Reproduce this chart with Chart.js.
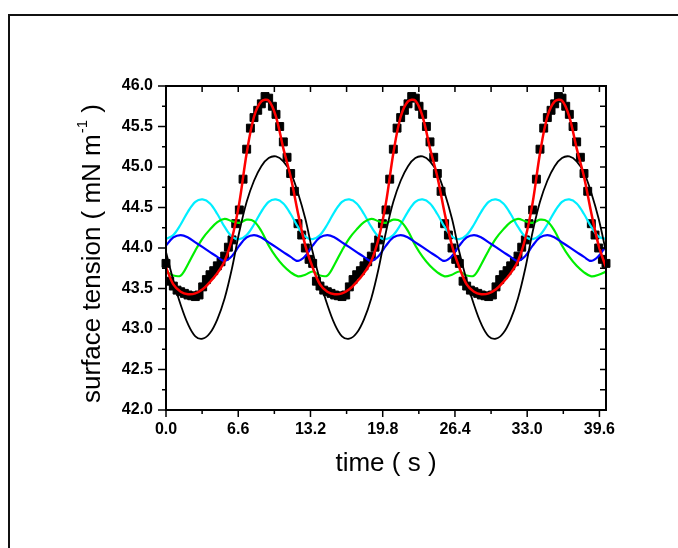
<!DOCTYPE html>
<html>
<head>
<meta charset="utf-8">
<script src="https://cdn.jsdelivr.net/npm/chart.js@4"></script>
<style>
  html, body { margin: 0; padding: 0; background: #fff; overflow: hidden; }
  #wrap { position: relative; width: 678px; height: 548px; }
</style>
</head>
<body>
<div id="wrap"><canvas id="chart" width="678" height="548"></canvas></div>
<script>
// sample times of the fitted / component curves (s)
const lineTimes = [0, 0.67, 1.34, 2.01, 2.68, 3.35, 4.02, 4.69, 5.36, 6.03, 6.7, 7.37, 8.04, 8.71, 9.38, 10.05, 10.72, 11.39, 12.06, 12.73,
  13.4, 14.07, 14.74, 15.41, 16.08, 16.75, 17.42, 18.09, 18.76, 19.43, 20.1, 20.77, 21.44, 22.11, 22.78, 23.45, 24.12, 24.79, 25.46, 26.13,
  26.8, 27.47, 28.14, 28.81, 29.48, 30.15, 30.82, 31.49, 32.16, 32.83, 33.5, 34.17, 34.84, 35.51, 36.18, 36.85, 37.52, 38.19, 38.86, 39.53,
  40.2];

// measured points (black squares)
const dataTimes = [0, 0.34, 0.67, 1.01, 1.34, 1.68, 2.01, 2.35, 2.68, 3.02, 3.35, 3.69, 4.02, 4.36, 4.69, 5.03, 5.36, 5.70, 6.03, 6.37,
  6.70, 7.04, 7.37, 7.71, 8.04, 8.38, 8.71, 9.05, 9.38, 9.72, 10.05, 10.39, 10.72, 11.06, 11.39, 11.73, 12.06, 12.40, 12.73, 13.07,
  13.40, 13.74, 14.07, 14.41, 14.74, 15.08, 15.41, 15.75, 16.08, 16.42, 16.75, 17.09, 17.42, 17.76, 18.09, 18.43, 18.76, 19.10, 19.43, 19.77,
  20.10, 20.44, 20.77, 21.11, 21.44, 21.78, 22.11, 22.45, 22.78, 23.12, 23.45, 23.79, 24.12, 24.46, 24.79, 25.13, 25.46, 25.80, 26.13, 26.47,
  26.80, 27.14, 27.47, 27.81, 28.14, 28.48, 28.81, 29.15, 29.48, 29.82, 30.15, 30.49, 30.82, 31.16, 31.49, 31.83, 32.16, 32.50, 32.83, 33.17,
  33.50, 33.84, 34.17, 34.51, 34.84, 35.18, 35.51, 35.85, 36.18, 36.52, 36.85, 37.19, 37.52, 37.86, 38.19, 38.53, 38.86, 39.20, 39.53, 39.87,
  40.20];

const measured = [43.81, 43.59, 43.53, 43.48, 43.46, 43.44, 43.42, 43.41, 43.40, 43.42, 43.52, 43.61, 43.67, 43.72, 43.78, 43.83, 43.90, 44.01, 44.10, 44.30,
  44.47, 44.85, 45.22, 45.48, 45.61, 45.70, 45.78, 45.87, 45.85, 45.75, 45.65, 45.50, 45.31, 45.12, 44.92, 44.70, 44.30, 44.16, 44.00, 43.86,
  43.81, 43.59, 43.53, 43.48, 43.46, 43.44, 43.42, 43.41, 43.40, 43.42, 43.52, 43.61, 43.67, 43.72, 43.78, 43.83, 43.90, 44.01, 44.10, 44.30,
  44.47, 44.85, 45.22, 45.48, 45.61, 45.70, 45.78, 45.87, 45.85, 45.75, 45.65, 45.50, 45.31, 45.12, 44.92, 44.70, 44.30, 44.16, 44.00, 43.86,
  43.81, 43.59, 43.53, 43.48, 43.46, 43.44, 43.42, 43.41, 43.40, 43.42, 43.52, 43.61, 43.67, 43.72, 43.78, 43.83, 43.90, 44.01, 44.10, 44.30,
  44.47, 44.85, 45.22, 45.48, 45.61, 45.70, 45.78, 45.87, 45.85, 45.75, 45.65, 45.50, 45.31, 45.12, 44.92, 44.70, 44.30, 44.16, 44.00, 43.86,
  43.81];

const redFit = [43.76, 43.55, 43.46, 43.43, 43.44, 43.49, 43.58, 43.69, 43.84, 44.12, 44.56, 45.17, 45.62, 45.81, 45.82, 45.62, 45.23, 44.88, 44.43, 44.03,
  43.76, 43.55, 43.46, 43.43, 43.44, 43.49, 43.58, 43.69, 43.84, 44.12, 44.56, 45.17, 45.62, 45.81, 45.82, 45.62, 45.23, 44.88, 44.43, 44.03,
  43.76, 43.55, 43.46, 43.43, 43.44, 43.49, 43.58, 43.69, 43.84, 44.12, 44.56, 45.17, 45.62, 45.81, 45.82, 45.62, 45.23, 44.88, 44.43, 44.03,
  43.76];

const blackLine = [43.95, 43.60, 43.30, 43.06, 42.91, 42.88, 42.95, 43.12, 43.38, 43.75, 44.20, 44.57, 44.83, 45.01, 45.11, 45.13, 45.07, 44.93, 44.68, 44.36,
  43.95, 43.60, 43.30, 43.06, 42.91, 42.88, 42.95, 43.12, 43.38, 43.75, 44.20, 44.57, 44.83, 45.01, 45.11, 45.13, 45.07, 44.93, 44.68, 44.36,
  43.95, 43.60, 43.30, 43.06, 42.91, 42.88, 42.95, 43.12, 43.38, 43.75, 44.20, 44.57, 44.83, 45.01, 45.11, 45.13, 45.07, 44.93, 44.68, 44.36,
  43.95];

const cyanLine = [44.11, 44.16, 44.29, 44.45, 44.57, 44.60, 44.55, 44.42, 44.26, 44.14, 44.11, 44.16, 44.29, 44.45, 44.57, 44.60, 44.55, 44.42, 44.26, 44.14,
  44.11, 44.16, 44.29, 44.45, 44.57, 44.60, 44.55, 44.42, 44.26, 44.14, 44.11, 44.16, 44.29, 44.45, 44.57, 44.60, 44.55, 44.42, 44.26, 44.14,
  44.11, 44.16, 44.29, 44.45, 44.57, 44.60, 44.55, 44.42, 44.26, 44.14, 44.11, 44.16, 44.29, 44.45, 44.57, 44.60, 44.55, 44.42, 44.26, 44.14,
  44.11];

const greenLine = [43.71, 43.66, 43.66, 43.80, 43.97, 44.12, 44.23, 44.32, 44.36, 44.33, 44.31, 44.35, 44.33, 44.21, 44.03, 43.89, 43.78, 43.70, 43.65, 43.67,
  43.71, 43.66, 43.66, 43.80, 43.97, 44.12, 44.23, 44.32, 44.36, 44.33, 44.31, 44.35, 44.33, 44.21, 44.03, 43.89, 43.78, 43.70, 43.65, 43.67,
  43.71, 43.66, 43.66, 43.80, 43.97, 44.12, 44.23, 44.32, 44.36, 44.33, 44.31, 44.35, 44.33, 44.21, 44.03, 43.89, 43.78, 43.70, 43.65, 43.67,
  43.71];

const blueLine = [44.03, 44.13, 44.16, 44.13, 44.07, 44.01, 43.95, 43.89, 43.84, 43.90, 44.03, 44.13, 44.16, 44.13, 44.07, 44.01, 43.95, 43.89, 43.84, 43.90,
  44.03, 44.13, 44.16, 44.13, 44.07, 44.01, 43.95, 43.89, 43.84, 43.90, 44.03, 44.13, 44.16, 44.13, 44.07, 44.01, 43.95, 43.89, 43.84, 43.90,
  44.03, 44.13, 44.16, 44.13, 44.07, 44.01, 43.95, 43.89, 43.84, 43.90, 44.03, 44.13, 44.16, 44.13, 44.07, 44.01, 43.95, 43.89, 43.84, 43.90,
  44.03];

const xTitle = "time ( s )";
const yTitle = ["surface tension ( mN m", "-1", " )"];

const FONT = "'Liberation Sans', Arial, sans-serif";

function pts(times, vals) {
  return times.map((t, i) => ({ x: t, y: vals[i] }));
}

function lineSet(vals, color, width, order) {
  return {
    data: pts(lineTimes, vals),
    showLine: true,
    borderColor: color,
    borderWidth: width,
    pointRadius: 0,
    tension: 0.35,
    order: order
  };
}

const framePlugin = {
  id: "frame",
  beforeDraw(chart) {
    const c = chart.ctx;
    c.save();
    c.fillStyle = "#fff";
    c.fillRect(0, 0, chart.width, chart.height);
    c.strokeStyle = "#111";
    c.lineWidth = 2;
    c.strokeRect(9, 15, 720, 600);
    c.restore();
  },
  afterDraw(chart) {
    const c = chart.ctx;
    const a = chart.chartArea;
    const x = chart.scales.x;
    const y = chart.scales.y;
    c.save();
    c.strokeStyle = "#000";
    c.lineWidth = 1.5;
    c.beginPath();
    x.ticks.forEach((t, i) => {
      const px = x.getPixelForValue(t.value);
      const len = i % 2 === 0 ? 7 : 4;
      c.moveTo(px, a.bottom); c.lineTo(px, a.bottom + len);
      c.moveTo(px, a.top); c.lineTo(px, a.top + 6);
    });
    y.ticks.forEach(t => {
      const py = y.getPixelForValue(t.value);
      const major = Math.abs(t.value * 2 - Math.round(t.value * 2)) < 1e-6;
      c.moveTo(a.left - (major ? 8 : 4), py); c.lineTo(a.left, py);
      c.moveTo(a.right, py); c.lineTo(a.right - 6, py);
    });
    c.stroke();
    c.lineWidth = 2;
    c.strokeRect(a.left, a.top, a.right - a.left, a.bottom - a.top);

    // axis titles
    c.fillStyle = "#000";
    c.textBaseline = "alphabetic";
    c.font = "26px " + FONT;
    c.textAlign = "center";
    c.fillText(xTitle, (a.left + a.right) / 2, 471);

    c.translate(100, 254);
    c.rotate(-Math.PI / 2);
    c.textAlign = "left";
    c.font = "26px " + FONT;
    const w1 = c.measureText(yTitle[0]).width;
    const w3 = c.measureText(yTitle[2]).width;
    c.font = "15px " + FONT;
    const w2 = c.measureText(yTitle[1]).width;
    let sx = -(w1 + w2 + w3) / 2;
    c.font = "26px " + FONT;
    c.fillText(yTitle[0], sx, 0);
    c.font = "15px " + FONT;
    c.fillText(yTitle[1], sx + w1 + 1, -13);
    c.font = "26px " + FONT;
    c.fillText(yTitle[2], sx + w1 + w2 + 1, 0);
    c.restore();
  }
};

new Chart(document.getElementById("chart"), {
  type: "scatter",
  data: {
    datasets: [
      lineSet(redFit, "#ff0000", 2.5, 0),
      lineSet(blackLine, "#000000", 1.8, 1),
      lineSet(blueLine, "#0000ff", 2.2, 2),
      lineSet(greenLine, "#00ee00", 2.2, 3),
      lineSet(cyanLine, "#00eeff", 2.2, 4),
      {
        data: pts(dataTimes, measured),
        showLine: false,
        pointStyle: "rect",
        pointRadius: 5.6,
        pointBackgroundColor: "#000",
        pointBorderColor: "#000",
        pointBorderWidth: 1,
        clip: false,
        order: 5
      }
    ]
  },
  options: {
    responsive: false,
    animation: false,
    layout: { padding: { left: 0, right: 72, top: 86, bottom: 0 } },
    plugins: { legend: { display: false }, tooltip: { enabled: false } },
    scales: {
      x: {
        type: "linear",
        min: 0,
        max: 40.2,
        afterFit: s => { s.height = 138; },
        grid: { display: false, drawTicks: false },
        border: { display: false },
        ticks: {
          stepSize: 3.3,
          includeBounds: false,
          autoSkip: false,
          maxRotation: 0,
          padding: 10,
          color: "#000",
          font: { family: FONT, size: 16, weight: "bold" },
          callback: (v, i) => (i % 2 === 0 ? v.toFixed(1) : "")
        }
      },
      y: {
        type: "linear",
        min: 42,
        max: 46,
        afterFit: s => { s.width = 166; },
        grid: { display: false, drawTicks: false },
        border: { display: false },
        ticks: {
          stepSize: 0.25,
          autoSkip: false,
          padding: 13,
          color: "#000",
          font: { family: FONT, size: 16, weight: "bold" },
          callback: v => (Math.abs(v * 2 - Math.round(v * 2)) < 1e-6 ? v.toFixed(1) : "")
        }
      }
    }
  },
  plugins: [framePlugin]
});
</script>
</body>
</html>
